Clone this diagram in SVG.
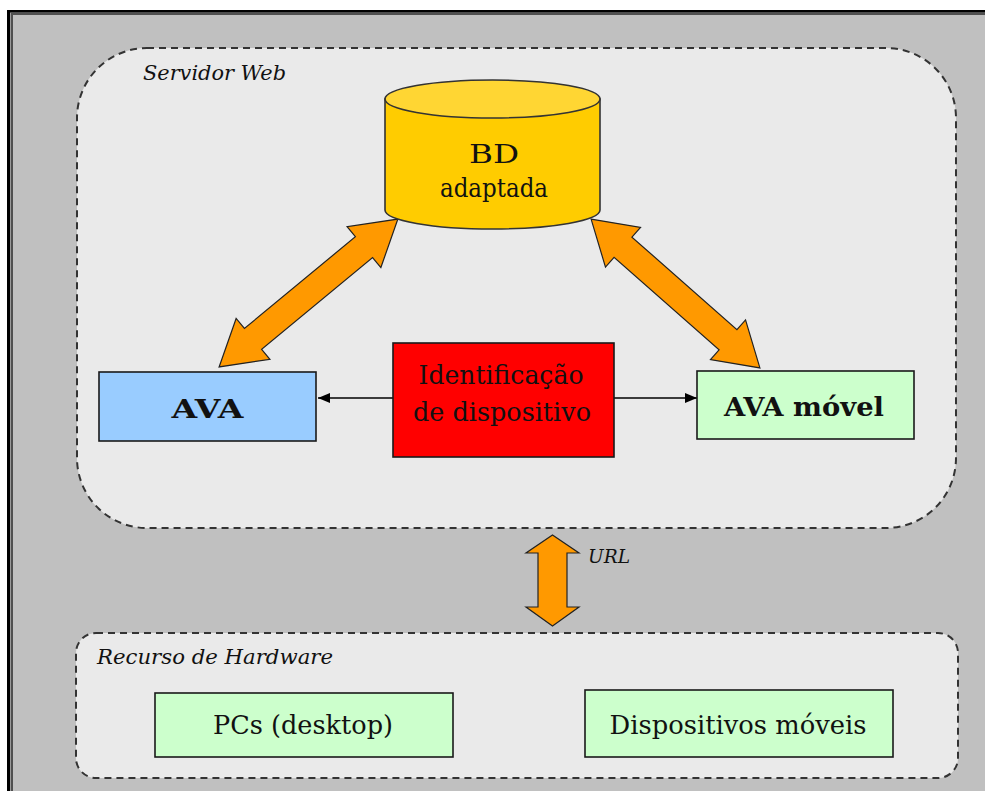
<svg xmlns="http://www.w3.org/2000/svg" width="985" height="791" viewBox="0 0 985 791">
  <style>
    .frame-dash { fill: #eaeaea; stroke: #333; stroke-width: 2; stroke-dasharray: 7 5; }
    .box { stroke: #1a1a1a; stroke-width: 1.6; }
    .title { font-family: "DejaVu Serif", "Liberation Serif", serif; font-style: italic; fill: #111; }
    .big { font-family: "DejaVu Serif", "Liberation Serif", serif; fill: #111; font-size: 26px; text-anchor: middle; }
    .bold { font-weight: bold; }
    .fat { fill: #ff9900; stroke: #222; stroke-width: 1.2; stroke-linejoin: miter; }
    .thin { stroke: #000; stroke-width: 1.3; fill: none; }
  </style>
  <defs>
    <marker id="tri" viewBox="0 0 12 10" refX="12" refY="5" markerWidth="12" markerHeight="10" markerUnits="userSpaceOnUse" orient="auto">
      <path d="M0,0 L12,5 L0,10 Z" fill="#000"/>
    </marker>
  </defs>

  <!-- page frame -->
  <rect x="0" y="0" width="985" height="791" fill="#ffffff"/>
  <rect x="7" y="10" width="978" height="781" fill="#000"/>
  <rect x="10" y="12.5" width="975" height="779" fill="#9a9a9a"/>
  <rect x="11" y="13" width="974" height="778" fill="#505050"/>
  <rect x="13" y="15" width="972" height="776" fill="#c0c0c0"/>

  <!-- web server zone -->
  <g id="servidor-web">
    <rect class="frame-dash" x="77" y="48" width="879" height="480" rx="70" ry="70"/>
    <text class="title" x="143" y="80" font-size="20" textLength="143" lengthAdjust="spacingAndGlyphs">Servidor Web</text>
  </g>

  <!-- hardware zone -->
  <g id="recurso-hardware">
    <rect class="frame-dash" x="76" y="633" width="882" height="145" rx="20" ry="20"/>
    <text class="title" x="97" y="664" font-size="20" textLength="236" lengthAdjust="spacingAndGlyphs">Recurso de Hardware</text>
  </g>

  <!-- connectors -->
  <g id="connectors">
    <!-- BD <-> AVA -->
    <g transform="translate(308.5,293) rotate(-39.6)">
      <path class="fat" d="M-116,0 L-72,-26.5 L-72,-13.5 L72,-13.5 L72,-26.5 L116,0 L72,26.5 L72,13.5 L-72,13.5 L-72,26.5 Z"/>
    </g>
    <!-- BD <-> AVA movel -->
    <g transform="translate(675.5,293.5) rotate(41.4)">
      <path class="fat" d="M-112.5,0 L-70,-26.5 L-70,-13.5 L70,-13.5 L70,-26.5 L112.5,0 L70,26.5 L70,13.5 L-70,13.5 L-70,26.5 Z"/>
    </g>
    <!-- URL -->
    <path class="fat" d="M552.5,535 L579,553 L567,553 L567,607 L579,607 L552.5,626 L526,607 L538,607 L538,553 L526,553 Z"/>
    <text class="title" x="588" y="563" font-size="18" textLength="42" lengthAdjust="spacingAndGlyphs">URL</text>
    <!-- identification to the two environments -->
    <line class="thin" x1="393" y1="398" x2="318" y2="398" marker-end="url(#tri)"/>
    <line class="thin" x1="614" y1="398" x2="697" y2="398" marker-end="url(#tri)"/>
  </g>

  <!-- database -->
  <g id="bd-adaptada">
    <path d="M385,99 L385,210 A107.5,19 0 0 0 600,210 L600,99 Z" fill="#ffcc00" stroke="#333" stroke-width="1.6"/>
    <ellipse cx="492.5" cy="99" rx="107.5" ry="19" fill="#ffd633" stroke="#333" stroke-width="1.6"/>
    <text class="big" x="494" y="163" textLength="50" lengthAdjust="spacingAndGlyphs">BD</text>
    <text class="big" x="494" y="197" textLength="108" lengthAdjust="spacingAndGlyphs">adaptada</text>
  </g>

  <g id="ava">
    <rect class="box" x="99" y="372" width="217" height="69" fill="#99ccff"/>
    <text class="big bold" x="207.5" y="418" textLength="72" lengthAdjust="spacingAndGlyphs">AVA</text>
  </g>

  <g id="identificacao">
    <rect class="box" x="393" y="343" width="221" height="114" fill="#ff0000"/>
    <text class="big" x="501" y="384" textLength="165" lengthAdjust="spacingAndGlyphs">Identificação</text>
    <text class="big" x="502" y="421" textLength="178" lengthAdjust="spacingAndGlyphs">de dispositivo</text>
  </g>

  <g id="ava-movel">
    <rect class="box" x="697" y="371" width="217" height="68" fill="#ccffcc"/>
    <text class="big bold" x="804" y="416" textLength="160" lengthAdjust="spacingAndGlyphs">AVA móvel</text>
  </g>

  <g id="pcs">
    <rect class="box" x="155" y="693" width="298" height="64" fill="#ccffcc"/>
    <text class="big" x="303" y="734" textLength="180" lengthAdjust="spacingAndGlyphs">PCs (desktop)</text>
  </g>

  <g id="moveis">
    <rect class="box" x="585" y="690" width="308" height="67" fill="#ccffcc"/>
    <text class="big" x="738" y="734" textLength="257" lengthAdjust="spacingAndGlyphs">Dispositivos móveis</text>
  </g>
</svg>
